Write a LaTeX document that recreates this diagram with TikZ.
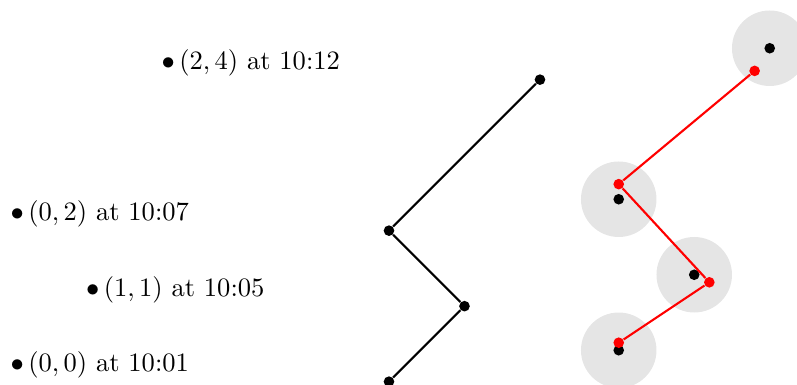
\documentclass[tikz,border=0pt]{standalone}
\begin{document}
\begin{tikzpicture}[x=1cm,y=1cm,
  dot/.style={circle,fill=black,inner sep=0pt,minimum size=4pt},
  reddot/.style={circle,fill=red,inner sep=0pt,minimum size=4pt},
  zone/.style={circle,fill=gray!20,inner sep=0pt,minimum size=1cm},
  lbl/.style={anchor=base west,inner sep=0pt},
  path1/.style={thick,black},
  path2/.style={thick,red}]
\useasboundingbox (0,0) rectangle (10.556,5.099);
% labels
\begin{scope}[shift={(0.133,0.177)}]
  \node[lbl] (l0) at (0,0) {$\bullet\,(0,0)$ at 10:01};
  \node[lbl] (l1) at (1,1) {$\bullet\,(1,1)$ at 10:05};
  \node[lbl] (l2) at (0,2) {$\bullet\,(0,2)$ at 10:07};
  \node[lbl] (l3) at (2,4) {$\bullet\,(2,4)$ at 10:12};
\end{scope}
% middle trajectory
\begin{scope}[shift={(5.152,0.044)}]
  \node[dot] (m0) at (0,0) {};
  \node[dot] (m1) at (1,1) {};
  \node[dot] (m2) at (0,2) {};
  \node[dot] (m3) at (2,4) {};
  \draw[path1] (m0) -- (m1) -- (m2) -- (m3);
\end{scope}
% right: uncertainty zones
\begin{scope}[shift={(8.195,0.460)}]
  \node[zone] (z0) at (0,0) {};
  \node[zone] (z1) at (1,1) {};
  \node[zone] (z2) at (0,2) {};
  \node[zone] (z3) at (2,4) {};
  \node[dot] (b0) at (0,0) {};
  \node[dot] (b1) at (1,1) {};
  \node[dot] (b2) at (0,2) {};
  \node[dot] (b3) at (2,4) {};
  \node[reddot] (r0) at (0,0.1) {};
  \node[reddot] (r1) at (1.2,0.9) {};
  \node[reddot] (r2) at (0,2.2) {};
  \node[reddot] (r3) at (1.8,3.7) {};
  \draw[path2] (r0) -- (r1) -- (r2) -- (r3);
\end{scope}
\end{tikzpicture}
\end{document}
